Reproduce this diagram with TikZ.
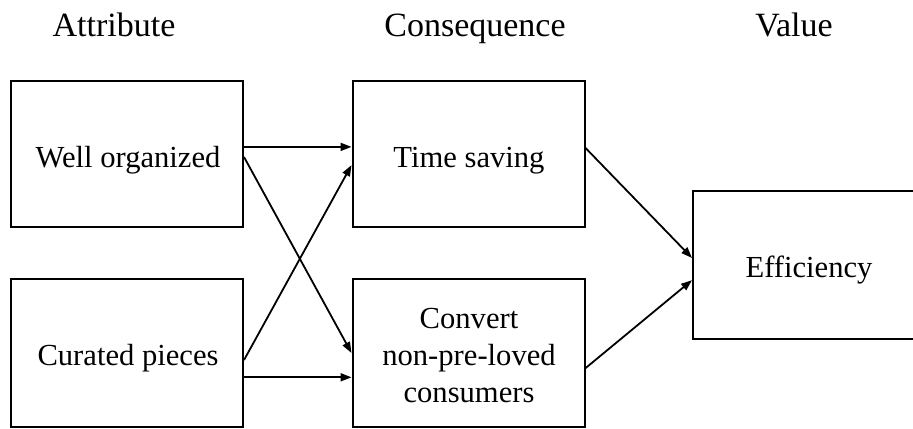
\documentclass[tikz,border=0pt]{standalone}
\usepackage{fontspec}
\setmainfont{Liberation Serif}
\usetikzlibrary{arrows.meta,calc}

\begin{document}
\begin{tikzpicture}[x=0.5pt,y=-0.5pt,
  box/.style={draw, line width=1pt, rectangle, inner sep=0pt,
    minimum width=116pt, minimum height=73pt},
  tallbox/.style={box, minimum height=74pt},
  txt/.style={font=\fontsize{15.3pt}{18.5pt}\selectfont, anchor=base, inner sep=0pt},
  head/.style={font=\fontsize{17pt}{20pt}\selectfont, anchor=base, inner sep=0pt},
  link/.style={line width=0.9pt, -{Triangle[length=5.5pt,width=4pt]}}]

\clip (0,0) rectangle (913,428);
\useasboundingbox (0,0) rectangle (913,428);

% column headings
\node[head] (hA) at (114,36) {Attribute};
\node[head] (hC) at (475,36) {Consequence};
\node[head] (hV) at (794,36) {Value};

% boxes
\node[box] (A1) at (127,154) {};
\node[tallbox] (A2) at (127,353) {};
\node[box] (C1) at (468.5,154) {};
\node[tallbox] (C2) at (468.5,353) {};
\node[tallbox] (V) at (809,265) {};

% box texts
\node[txt] (tA1) at (128,167) {Well organized};
\node[txt] (tA2) at (128,365) {Curated pieces};
\node[txt] (tC1) at (469,167) {Time saving};
\node[txt] (tC2a) at (469,328) {Convert};
\node[txt] (tC2b) at (469,365) {non-pre-loved};
\node[txt] (tC2c) at (469,402) {consumers};
\node[txt] (tV) at (809,277) {Efficiency};

% attribute -> consequence
\draw[link] ($(A1.north east)!0.452!(A1.south east)$) -- ($(C1.north west)!0.452!(C1.south west)$);
\draw[link] ($(A1.north east)!0.52!(A1.south east)$) -- ($(C2.north west)!0.50!(C2.south west)$);
\draw[link] ($(A2.north east)!0.547!(A2.south east)$) -- ($(C1.north west)!0.575!(C1.south west)$);
\draw[link] ($(A2.north east)!0.662!(A2.south east)$) -- ($(C2.north west)!0.662!(C2.south west)$);

% consequence -> value
\draw[link] ($(C1.north east)!0.459!(C1.south east)$) -- ($(V.north west)!0.453!(V.south west)$);
\draw[link] ($(C2.north east)!0.601!(C2.south east)$) -- ($(V.north west)!0.601!(V.south west)$);
\end{tikzpicture}
\end{document}
